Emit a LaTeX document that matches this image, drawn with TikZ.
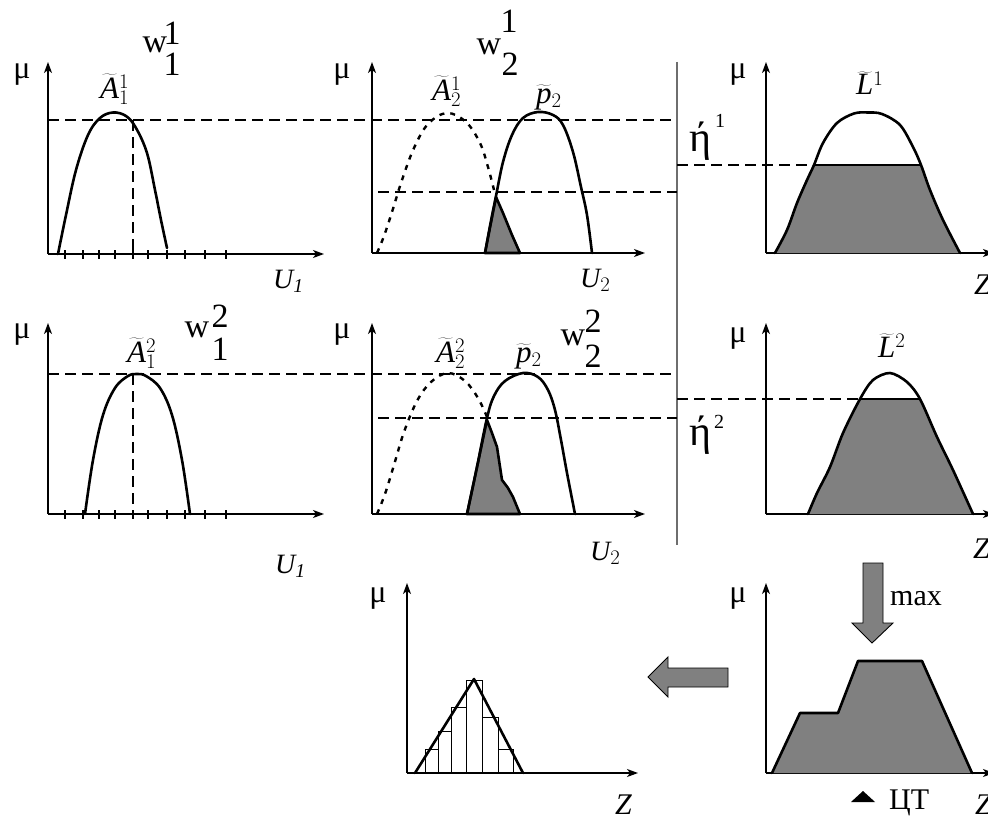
\documentclass[tikz,border=0pt]{standalone}
\usepackage{fontspec}
\setmainfont{Liberation Serif}
\usetikzlibrary{arrows.meta}
\definecolor{shd}{RGB}{128,128,128}
\definecolor{sepc}{RGB}{110,110,110}
\newcommand{\myfs}[1]{\fontsize{#1}{#1}\selectfont}
\begin{document}
\begin{tikzpicture}[x=1pt,y=-1pt,
  ax/.style={line width=1.3pt,-{Stealth[length=11pt,width=8pt,inset=3pt]}},
  crv/.style={line width=2.6pt,line join=round,line cap=round},
  dcrv/.style={line width=2.4pt,dash pattern=on 5pt off 6pt},
  hd/.style={line width=1.2pt,dash pattern=on 11pt off 6pt},
  tk/.style={line width=1.1pt},
  lb/.style={inner sep=0pt,anchor=base west},
  mu/.style={inner sep=0pt,anchor=base,font=\myfs{32}},
  wl/.style={inner sep=0pt,anchor=base,font=\myfs{34}},
  ml/.style={inner sep=0pt,anchor=base west,font=\myfs{31}},
  ul/.style={inner sep=0pt,anchor=base west,font=\myfs{28}},
  zl/.style={inner sep=0pt,anchor=base west,font=\myfs{30}\itshape},
  blk/.style={fill=shd,draw=black,line width=0.9pt,line join=miter},
]
\useasboundingbox (0,0) rectangle (988,816);
\fill[white] (0,0) rectangle (988,816);

% ---------- separator ----------
\draw[sepc,line width=1.1pt] (677,62) -- (677,545);

% ---------- dashed level lines ----------
\draw[hd] (48,120) -- (675,120);
\draw[hd] (378,192) -- (677,192);
\draw[hd] (133,120) -- (133,254);
\draw[hd] (677,165) -- (814,165);
\draw[hd] (48,374) -- (677,374);
\draw[hd] (378,418) -- (677,418);
\draw[hd] (133,374) -- (133,514);
\draw[hd] (677,399) -- (860,399);

% ---------- panel 1 ----------
\draw[ax] (48,254) -- (48,62);
\draw[ax] (48,254) -- (324,254);
\foreach \x in {65,83,99,115,133,148,167,185,205,226} \draw[tk] (\x,250) -- (\x,259);
\draw[crv] plot[smooth,tension=0.6] coordinates {(58,254) (66,215) (76,170) (88,135) (100,118) (113,112.5) (126,116) (136,128) (147,153) (155,190) (161,220) (167,248)};
\node[mu] (mu1) at (22,78) {μ};
\node[ml] (a11) at (100,98) {$\widetilde{\mathit{A}}^{1}_{1}$};
\node[wl] (w11) at (155,53) {w};
\node[wl] (w11s) at (172,45) {1};
\node[wl] (w11b) at (172,75) {1};
\node[ul] (u11) at (273,288) {$\mathit{U}_{\mathit{1}}$};

% ---------- panel 2 ----------
\draw[ax] (372,253) -- (372,62);
\draw[ax] (372,253) -- (645,253);
\fill[shd] (485,253) -- (496,197) -- (503,213) -- (512,235) -- (520,253) -- cycle;
\draw[crv] (485,253) -- (496,197) -- (503,213) -- (512,235) -- (520,253) -- cycle;
\draw[dcrv] plot[smooth,tension=0.6] coordinates {(377,253) (384,236) (392,212) (402,180) (414,148) (428,124) (447,113) (466,122) (480,143) (488,167) (494,190)};
\draw[crv] plot[smooth,tension=0.6] coordinates {(485,253) (490,226) (496,196) (503,162) (512,135) (523,118) (538,112) (553,115) (563,125) (573,152) (581,187) (587,215) (592,253)};
\node[mu] (mu2) at (342,78) {μ};
\node[ml] (a21) at (432,100) {$\widetilde{\mathit{A}}^{1}_{2}$};
\node[ml] (p21) at (536,103) {$\widetilde{\mathit{p}}_{2}$};
\node[wl] (w12) at (489,55) {w};
\node[wl] (w12s) at (509,33) {1};
\node[wl] (w12b) at (510,75) {2};
\node[ul] (u21) at (580,287) {$\mathit{U}_{2}$};

% ---------- panel 3 ----------
\draw[ax] (766,253) -- (766,62);
\draw[ax] (766,253) -- (994,253);
\begin{scope}
\clip (760,165) rectangle (990,254);
\fill[shd] plot[smooth,tension=0.55] coordinates {(775,253) (787,230) (797,203) (807,180) (814,165) (823,143) (837,123) (854,113.5) (868,112.5) (882,114) (900,125) (913,147) (921,165) (930,190) (943,220) (960,253)} -- cycle;
\end{scope}
\draw[line width=1.1pt] (814,165) -- (921,165);
\draw[crv] plot[smooth,tension=0.55] coordinates {(775,253) (787,230) (797,203) (807,180) (814,165) (823,143) (837,123) (854,113.5) (868,112.5) (882,114) (900,125) (913,147) (921,165) (930,190) (943,220) (960,253)};
\node[mu] (mu3) at (738,78) {μ};
\node[ml] (l1) at (856,95) {$\widetilde{\mathit{L}}^{1}$};
\node[zl] (z1) at (974,294) {Z};
\node[lb,font=\myfs{42}] (eta1) at (689,151) {ή};
\node[lb,font=\myfs{20}] (eta1s) at (715,127) {1};

% ---------- panel 4 ----------
\draw[ax] (48,514) -- (48,323);
\draw[ax] (48,514) -- (324,514);
\foreach \x in {65,83,99,115,133,148,167,185,205,226} \draw[tk] (\x,510) -- (\x,519);
\draw[crv] plot[smooth,tension=0.6] coordinates {(85,514) (93,460) (103,415) (115,388) (128,376) (137,374) (146,376) (160,388) (172,415) (182,460) (190,514)};
\node[mu] (mu4) at (22,338) {μ};
\node[ml] (a12) at (127,362) {$\widetilde{\mathit{A}}^{2}_{1}$};
\node[wl] (w21) at (197,337) {w};
\node[wl] (w21s) at (220,327) {2};
\node[wl] (w21b) at (220,360) {1};
\node[ul] (u12) at (275,573) {$\mathit{U}_{\mathit{1}}$};

% ---------- panel 5 ----------
\draw[ax] (372,514) -- (372,323);
\draw[ax] (372,514) -- (645,514);
\fill[shd] (467,514) -- (487,420) -- (492,433) -- (497,447) -- (502,480) -- (508,488) -- (513,497) -- (520,514) -- cycle;
\draw[crv] (467,514) -- (487,420) -- (492,433) -- (497,447) -- (502,480) -- (508,488) -- (513,497) -- (520,514) -- cycle;
\draw[dcrv] plot[smooth,tension=0.6] coordinates {(377,514) (385,494) (394,465) (404,432) (417,401) (431,382) (448,373) (465,381) (478,398) (487,417)};
\draw[crv] plot[smooth,tension=0.6] coordinates {(467,514) (477,467) (487,418) (494,396) (505,381) (523,373) (538,377) (548,390) (555,410) (561,440) (567,473) (575,514)};
\node[mu] (mu5) at (342,338) {μ};
\node[ml] (a22) at (436,362) {$\widetilde{\mathit{A}}^{2}_{2}$};
\node[ml] (p22) at (516,362) {$\widetilde{\mathit{p}}_{2}$};
\node[wl] (w22) at (573,345) {w};
\node[wl] (w22s) at (593,332) {2};
\node[wl] (w22b) at (593,367) {2};
\node[ul] (u22) at (590,560) {$\mathit{U}_{2}$};

% ---------- panel 6 ----------
\draw[ax] (766,514) -- (766,323);
\draw[ax] (766,514) -- (994,514);
\begin{scope}
\clip (760,399) rectangle (990,515);
\fill[shd] plot[smooth,tension=0.5] coordinates {(808,514) (817,493) (830,467) (843,433) (860,399) (873,380) (890,373) (907,382) (920,399) (937,437) (953,470) (973,514)} -- cycle;
\end{scope}
\draw[line width=1.1pt] (860,399) -- (920,399);
\draw[crv] plot[smooth,tension=0.5] coordinates {(808,514) (817,493) (830,467) (843,433) (860,399) (873,380) (890,373) (907,382) (920,399) (937,437) (953,470) (973,514)};
\node[mu] (mu6) at (738,342) {μ};
\node[ml] (l2) at (878,357) {$\widetilde{\mathit{L}}^{2}$};
\node[zl] (z2) at (973,558) {Z};
\node[lb,font=\myfs{42}] (eta2) at (689,445) {ή};
\node[lb,font=\myfs{20}] (eta2s) at (714,428) {2};

% ---------- bottom-middle ----------
\draw[ax] (407,773) -- (407,583);
\draw[ax] (407,773) -- (638,773);
\foreach \a/\b/\t in {425/438/749,438/451/731,451/466/707,466/482/680,482/498/717,498/513/749}
  \draw[line width=1pt] (\a,773) rectangle (\b,\t);
\draw[crv] (415,773) -- (474,679) -- (523,773);
\node[mu] (mu7) at (378,602) {μ};
\node[zl] (z3) at (615,814) {Z};

% ---------- bottom-right ----------
\draw[ax] (766,773) -- (766,583);
\draw[ax] (766,773) -- (994,773);
\fill[shd] (772,773) -- (800,713) -- (838,713) -- (858,661) -- (922,661) -- (972,773) -- cycle;
\draw[crv] (772,773) -- (800,713) -- (838,713) -- (858,661) -- (922,661) -- (972,773);
\node[mu] (mu8) at (738,602) {μ};
\node[zl] (z4) at (975,814) {Z};
\draw[blk] (863,563) -- (883,563) -- (883,623) -- (893,623) -- (872,643) -- (852,623) -- (863,623) -- cycle;
\node[lb,font=\myfs{30}] (max) at (890,605) {max};
\draw[blk] (648,677) -- (668,657) -- (668,668) -- (728,668) -- (728,687) -- (668,687) -- (668,697) -- cycle;
\fill (851,802) -- (875,802) -- (863,791) -- cycle;
\node[lb,font=\myfs{30}] (ct) at (889,809) {ЦТ};
\end{tikzpicture}
\end{document}
